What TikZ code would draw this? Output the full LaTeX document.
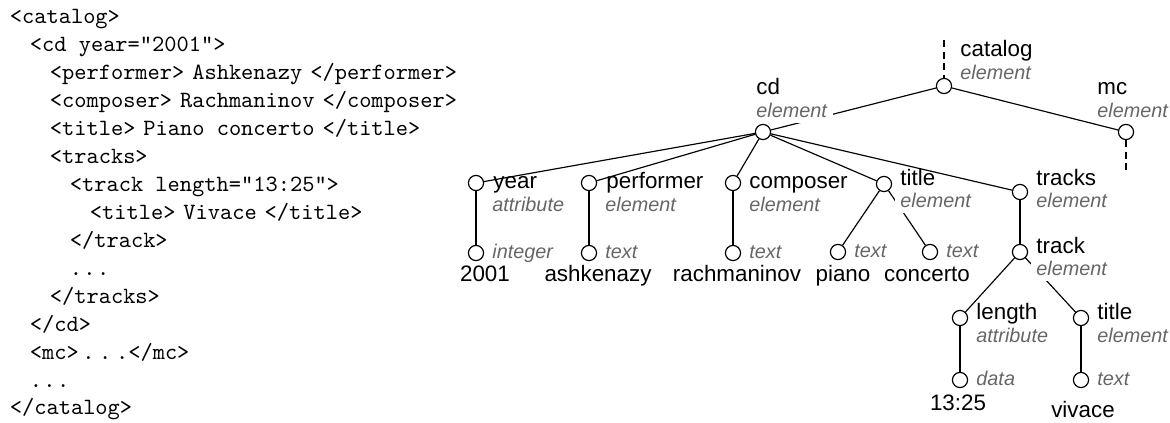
\documentclass[tikz,border=0pt]{standalone}
\usepackage{fontspec}
\newfontfamily\lsans{Liberation Sans}
\newcommand{\tg}{\hspace{3.4pt}}
\begin{document}
\begin{tikzpicture}[x=0.4292pt,y=-0.4292pt,
  code/.style={anchor=base west, inner sep=0pt, font=\ttfamily\fontsize{10pt}{12pt}\selectfont},
  vert/.style={circle, draw, line width=0.5pt, minimum size=6.5pt, inner sep=0pt, fill=white},
  nm/.style={anchor=base west, inner sep=0pt, font=\lsans\fontsize{9.6pt}{11pt}\selectfont},
  ty/.style={anchor=base west, inner sep=0pt, font=\lsans\itshape\fontsize{8.5pt}{10pt}\selectfont, text=black!60},
  mask/.style={fill=white, inner xsep=2.4pt, inner ysep=2pt, xshift=-2.4pt},
  val/.style={anchor=base, inner sep=0pt, font=\lsans\fontsize{9.6pt}{11pt}\selectfont},
  edge/.style={line width=0.5pt},
  stub/.style={line width=0.5pt, dash pattern=on 3pt off 2pt}]
\useasboundingbox (0,0) rectangle (1170,423);
% ---- code listing
\node[code] (c1)  at (9.4,24)    {<catalog>};
\node[code] (c2)  at (29.4,51.9) {<cd year="2001">};
\node[code] (c3)  at (49.4,79.9) {<performer>\tg Ashkenazy\tg</performer>};
\node[code] (c4)  at (49.4,107.8){<composer>\tg Rachmaninov\tg</composer>};
\node[code] (c5)  at (49.4,135.7){<title>\tg Piano concerto\tg</title>};
\node[code] (c6)  at (49.4,163.7){<tracks>};
\node[code] (c7)  at (69.4,191.6){<track length="13:25">};
\node[code] (c8)  at (89.4,219.5){<title>\tg Vivace\tg</title>};
\node[code] (c9)  at (69.4,247.4){</track>};
\node[code] (c10) at (69.4,275.4){.\hspace{0.6pt}.\hspace{0.6pt}.};
\node[code] (c11) at (49.4,303.3){</tracks>};
\node[code] (c12) at (29.4,331.2){</cd>};
\node[code] (c13) at (29.4,359.2){<mc>\hspace{1.5pt}.\hspace{2pt}.\hspace{2pt}.</mc>};
\node[code] (c14) at (29.4,387.1){.\hspace{0.6pt}.\hspace{0.6pt}.};
\node[code] (c15) at (9.4,415)   {</catalog>};
% ---- tree vertices
\node[vert] (catalog) at (944,86) {};
\node[vert] (cd) at (763,132) {};
\node[vert] (mc) at (1126,132) {};
\node[vert] (year) at (476,183) {};
\node[vert] (perf) at (589,183) {};
\node[vert] (comp) at (733,183) {};
\node[vert] (title) at (884,184) {};
\node[vert] (tracks) at (1020,192) {};
\node[vert] (yearL) at (476,253) {};
\node[vert] (perfL) at (589,253) {};
\node[vert] (compL) at (733,253) {};
\node[vert] (pianoL) at (838,252) {};
\node[vert] (concL) at (930,252) {};
\node[vert] (track) at (1020,252) {};
\node[vert] (len) at (960,318) {};
\node[vert] (title2) at (1081,318) {};
\node[vert] (lenL) at (960,380) {};
\node[vert] (t2L) at (1081,380) {};
\coordinate (top) at (944,40);
\coordinate (mcend) at (1126,170);
% ---- edges
\draw[stub] (top) -- (catalog);
\draw[stub] (mc) -- (mcend);
\draw[edge] (catalog) -- (cd);
\draw[edge] (catalog) -- (mc);
\draw[edge] (cd) -- (year);
\draw[edge] (cd) -- (perf);
\draw[edge] (cd) -- (comp);
\draw[edge] (cd) -- (title);
\draw[edge] (cd) -- (tracks);
\draw[edge] (year) -- (yearL);
\draw[edge] (perf) -- (perfL);
\draw[edge] (comp) -- (compL);
\draw[edge] (title) -- (pianoL);
\draw[edge] (title) -- (concL);
\draw[edge] (tracks) -- (track);
\draw[edge] (track) -- (len);
\draw[edge] (track) -- (title2);
\draw[edge] (len) -- (lenL);
\draw[edge] (title2) -- (t2L);
% ---- labels
\node[nm] (catalogN) at (960,57) {catalog};
\node[ty] (catalogT) at (960,79.5) {element};
\node[nm] (cdN) at (756,95) {cd};
\node[ty,mask] (cdT) at (756,118) {element};
\node[nm] (mcN) at (1097,95) {mc};
\node[ty] (mcT) at (1097,117.5) {element};
\node[nm] (yearN) at (493,189) {year};
\node[ty] (yearT) at (492,212) {attribute};
\node[nm] (perfN) at (606,189) {performer};
\node[ty] (perfT) at (605,212) {element};
\node[nm] (compN) at (749,189) {composer};
\node[ty] (compT) at (749,212) {element};
\node[nm] (titleN) at (900,186) {title};
\node[ty,mask] (titleT) at (900,208) {element};
\node[nm] (tracksN) at (1036,186) {tracks};
\node[ty] (tracksT) at (1036,208) {element};
\node[ty] (yearLT) at (492,259) {integer};
\node[ty] (perfLT) at (605,259) {text};
\node[ty] (compLT) at (749,259) {text};
\node[ty] (pianoLT) at (854,258) {text};
\node[ty] (concLT) at (946,258) {text};
\node[nm] (trackN) at (1036,254) {track};
\node[ty,mask] (trackT) at (1036,276) {element};
\node[nm] (lenN) at (976,320) {length};
\node[ty] (lenT) at (976,343) {attribute};
\node[nm] (title2N) at (1097,320) {title};
\node[ty] (title2T) at (1097,343) {element};
\node[ty] (lenLT) at (976,386) {data};
\node[ty] (t2LT) at (1097,386) {text};
% ---- values
\node[val] (v1) at (485,282) {2001};
\node[val] (v2) at (598,282) {ashkenazy};
\node[val] (v3) at (737,282) {rachmaninov};
\node[val] (v4) at (843,282) {piano};
\node[val] (v5) at (927,282) {concerto};
\node[val] (v6) at (958,411) {13:25};
\node[val] (v7) at (1083,418) {vivace};
\end{tikzpicture}
\end{document}
